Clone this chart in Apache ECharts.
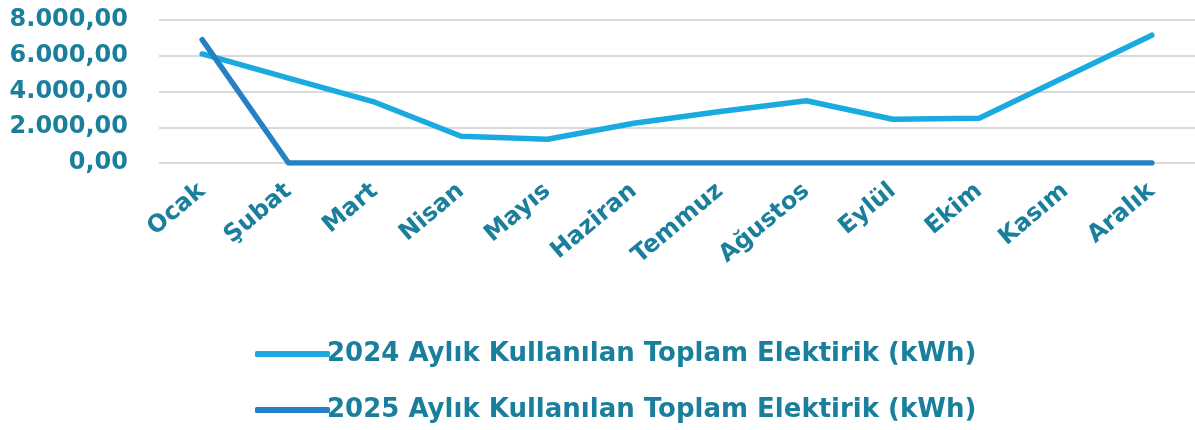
<!DOCTYPE html>
<html><head><meta charset="utf-8">
<script src="https://cdn.jsdelivr.net/npm/echarts@6/dist/echarts.min.js"></script>
<style>html,body{margin:0;padding:0;background:#fff}#c{width:1195px;height:430px}</style>
</head><body><div id="c"></div>
<script>
const months = ['Ocak','Şubat','Mart','Nisan','Mayıs','Haziran','Temmuz','Ağustos','Eylül','Ekim','Kasım','Aralık'];
const name2024 = '2024 Aylık Kullanılan Toplam Elektirik (kWh)';
const name2025 = '2025 Aylık Kullanılan Toplam Elektirik (kWh)';
const values2024 = [6100, 4750, 3400, 1500, 1330, 2220, 2880, 3480, 2450, 2500, 4820, 7150];
const values2025 = [6900, 0, 0, 0, 0, 0, 0, 0, 0, 0, 0, 0];
const yTicks = [0, 2000, 4000, 6000, 8000];

const txt = '#1a7f9c';
const font = 'DejaVu Sans';
function fmt(v){
  const s = Math.round(v).toString().replace(/\B(?=(\d{3})+(?!\d))/g,'.');
  return s + ',00';
}
const chart = echarts.init(document.getElementById('c'), null, {renderer:'canvas'});
chart.setOption({
  animation:false,
  grid:{left:159,right:0,top:20,bottom:267,containLabel:false},
  legend:{
    orient:'vertical', left:250, top:336, itemGap:30,
    itemWidth:75, itemHeight:6, icon:'roundRect',
    textStyle:{color:txt, fontFamily:font, fontSize:26, fontWeight:'bold', padding:[0,0,0,-8]},
    data:[name2024,name2025]
  },
  xAxis:{
    type:'category', data:months, boundaryGap:true,
    axisLine:{show:false}, axisTick:{show:false},
    axisLabel:{rotate:40, color:txt, fontFamily:font, fontSize:24, fontWeight:'bold', margin:25, interval:0}
  },
  yAxis:{
    type:'value', min:yTicks[0], max:yTicks[yTicks.length-1], interval:2000,
    axisLine:{show:false}, axisTick:{show:false},
    splitLine:{lineStyle:{color:'#d9d9d9', width:2}},
    axisLabel:{color:txt, fontFamily:font, fontSize:24, fontWeight:'bold', margin:31, formatter:fmt}
  },
  series:[
    {name:name2024, type:'line', data:values2024, symbol:'none', lineStyle:{width:5.5, color:'#1aaae0', cap:'round', join:'round'}, itemStyle:{color:'#1aaae0'}},
    {name:name2025, type:'line', data:values2025, symbol:'none', lineStyle:{width:5.5, color:'#2481c4', cap:'round', join:'round'}, itemStyle:{color:'#2481c4'}}
  ]
});
</script></body></html>
